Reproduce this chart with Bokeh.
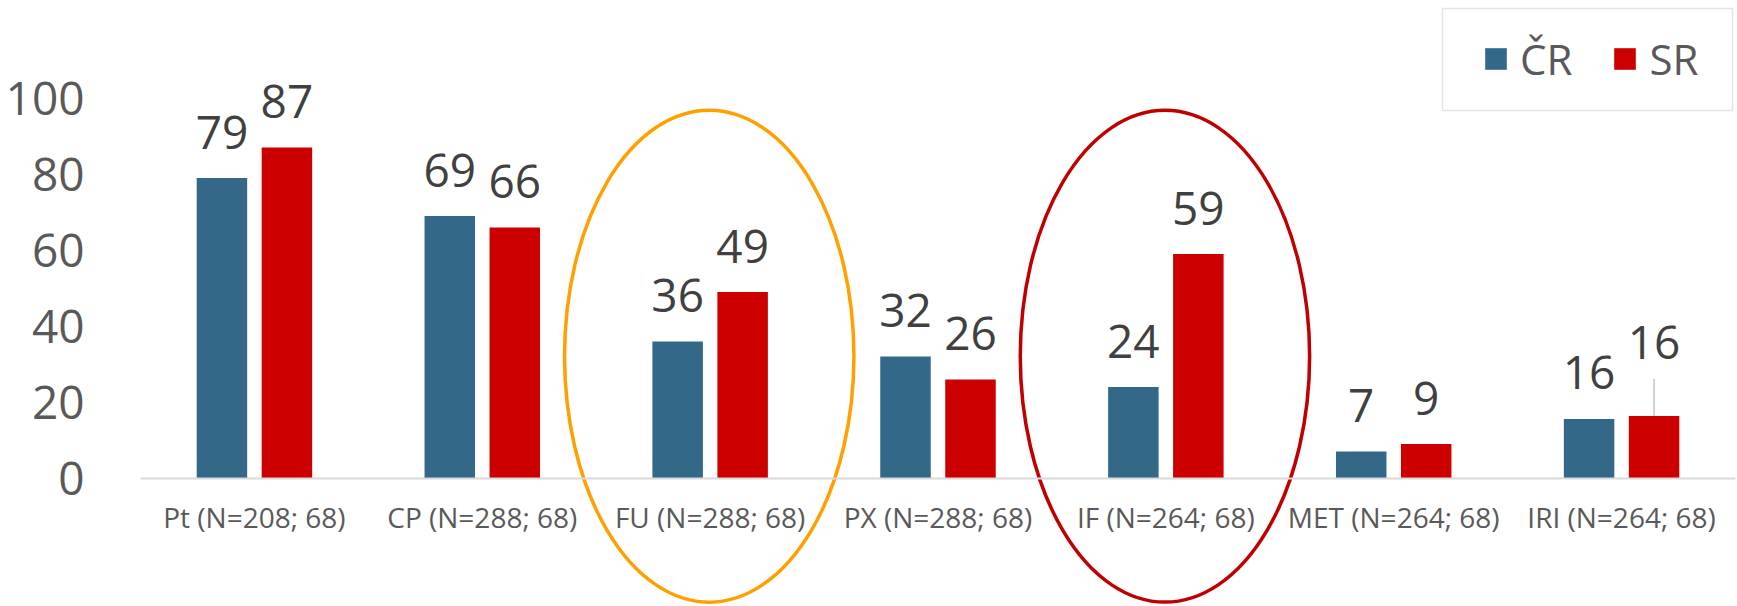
import math
from bokeh.plotting import figure
from bokeh.models import (ColumnDataSource, FactorRange, Range1d, FixedTicker,
                          Legend, LegendItem, BoxAnnotation)
from bokeh.transform import dodge
from bokeh.core.properties import value
from bokeh.embed import file_html
from bokeh.resources import INLINE

# ---------------- data ----------------
categories = ["Pt (N=208; 68)", "CP (N=288; 68)", "FU (N=288; 68)",
              "PX (N=288; 68)", "IF (N=264; 68)", "MET (N=264; 68)",
              "IRI (N=264; 68)"]
cr_values = [79, 69, 36, 32, 24, 7, 15.6]
sr_values = [87, 66, 49, 26, 59, 9, 16.4]
series_names = ["ČR", "SR"]
y_ticks = [0, 20, 40, 60, 80, 100]

# ---------------- layout / style ----------------
W, H = 1737, 606
PX_PER_UNIT = 3.8
ZERO_Y = 477.7
FONT = "Open Sans"
CR_COLOR = "#336888"
SR_COLOR = "#CC0000"
OFF = 0.1426
BAR_W = 0.2216
LABEL_GAP = -46

p = figure(width=W, height=H,
           x_range=FactorRange(factors=categories, range_padding=0),
           y_range=Range1d(-(H - ZERO_Y) / PX_PER_UNIT, ZERO_Y / PX_PER_UNIT),
           output_backend="svg", toolbar_location=None,
           min_border_left=140, min_border_right=2,
           min_border_top=0, min_border_bottom=0)
p.background_fill_color = "white"
p.border_fill_color = "white"
p.outline_line_color = None
p.xgrid.visible = False
p.ygrid.visible = False

# x axis drawn at y=0 inside the frame
xa = p.xaxis[0]
xa.fixed_location = 0
xa.axis_line_color = "#D9D9D9"
xa.axis_line_width = 2
xa.major_tick_line_color = None
xa.minor_tick_line_color = None
xa.major_label_text_font = FONT
xa.major_label_text_font_size = "28px"
xa.major_label_text_color = "#595959"
xa.major_label_standoff = 14

ya = p.yaxis[0]
ya.ticker = FixedTicker(ticks=y_ticks)
ya.axis_line_color = None
ya.major_tick_line_color = None
ya.minor_tick_line_color = None
ya.major_label_text_font = FONT
ya.major_label_text_font_size = "46px"
ya.major_label_text_color = "#595959"
ya.major_label_standoff = 50

src = ColumnDataSource(dict(cat=categories, cr=cr_values, sr=sr_values))

r_cr = p.vbar(x=dodge("cat", -OFF, range=p.x_range), top="cr", width=BAR_W,
              source=src, fill_color=CR_COLOR, line_color=None)
r_sr = p.vbar(x=dodge("cat", OFF, range=p.x_range), top="sr", width=BAR_W,
              source=src, fill_color=SR_COLOR, line_color=None)

# data labels
n = len(categories)
cr_lab = ColumnDataSource(dict(cat=categories, y=cr_values,
                               txt=[str(round(v)) for v in cr_values],
                               yoff=[LABEL_GAP] * n))
sr_lab = ColumnDataSource(dict(cat=categories, y=sr_values,
                               txt=[str(round(v)) for v in sr_values],
                               yoff=[LABEL_GAP] * (n - 1) + [LABEL_GAP - 27]))
for s, o in ((cr_lab, -OFF), (sr_lab, OFF)):
    p.text(x=dodge("cat", o, range=p.x_range), y="y", text="txt",
           y_offset="yoff", source=s, text_align="center",
           text_baseline="alphabetic", text_font=value(FONT),
           text_font_size="46px", text_color="#404040")

# leader line for the lifted IRI label
iri_src = ColumnDataSource(dict(cat=[categories[-1]], y=[sr_values[-1]]))
p.ray(x=dodge("cat", OFF, range=p.x_range), y="y", length=37,
      length_units="screen", angle=math.pi / 2, source=iri_src,
      line_color="#A6A6A6", line_width=1)

# highlight ellipses
ell_src = ColumnDataSource(dict(cat=[categories[2], categories[4]],
                                yc=[32.1, 32.1],
                                col=["#FFA000", "#C00000"]))
p.ellipse(x=dodge("cat", -0.004, range=p.x_range), y="yc",
          width=1.27, height=129.5, source=ell_src,
          fill_color=None, line_color="col", line_width=3.5)

# legend (border drawn separately; no border -> zero padding)
legend = Legend(items=[LegendItem(label=series_names[0], renderers=[r_cr]),
                       LegendItem(label=series_names[1], renderers=[r_sr])],
                location=(1342, 519), orientation="horizontal",
                glyph_width=27, glyph_height=27, label_standoff=11,
                spacing=39, padding=0, margin=0,
                border_line_color=None,
                background_fill_alpha=0,
                label_text_font=FONT, label_text_font_size="42px",
                label_text_color="#595959")
p.add_layout(legend)
p.add_layout(BoxAnnotation(left=1442, right=1732, top=8, bottom=110,
                           left_units="canvas", right_units="canvas",
                           top_units="canvas", bottom_units="canvas",
                           fill_alpha=0, line_color="#A6A6A6",
                           line_width=1.5, level="overlay"))

open("out.html", "w").write(file_html(p, INLINE))
